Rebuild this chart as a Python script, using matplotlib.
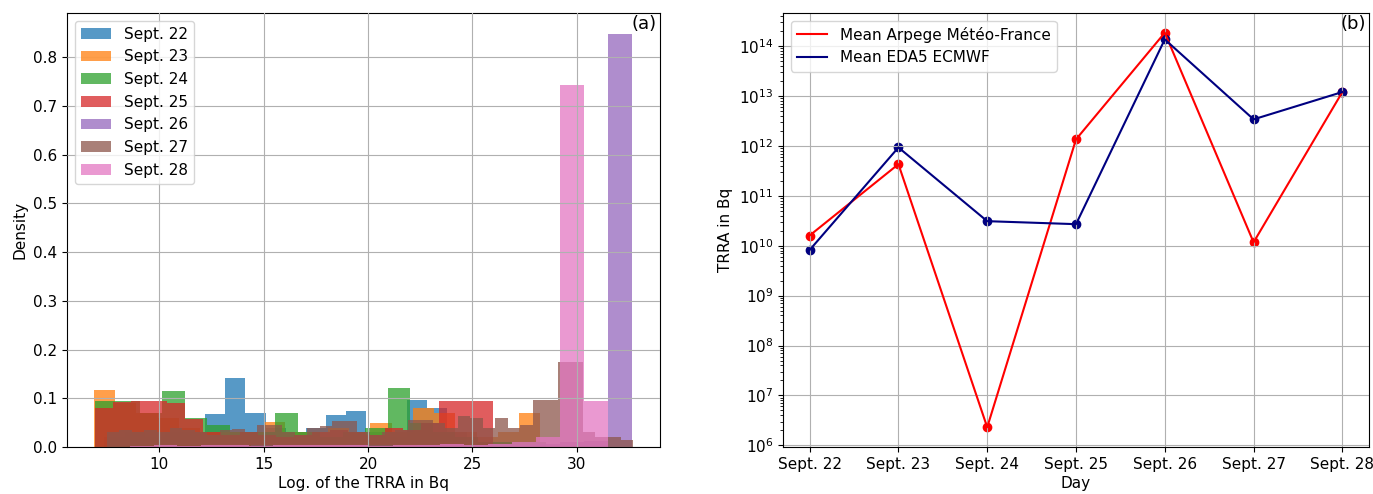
import numpy as np
import matplotlib
matplotlib.use("Agg")
import matplotlib.pyplot as plt
from matplotlib.ticker import MultipleLocator

# ---------------- data: panel (a) histograms (density per bin) ----------------
labels_a = ["Sept. 22", "Sept. 23", "Sept. 24", "Sept. 25", "Sept. 26", "Sept. 27", "Sept. 28"]

range_22 = (7.37, 24.74)
dens_22 = [0.02, 0.03, 0.02, 0.03, 0.03, 0.067, 0.142, 0.07, 0.04, 0.03, 0.04,
           0.066, 0.073, 0.03, 0.02, 0.097, 0.08, 0.03]

range_23 = (6.87, 28.25)
dens_23 = [0.116, 0.09, 0.07, 0.06, 0.04, 0.03, 0.03, 0.03, 0.052, 0.03, 0.03,
           0.04, 0.03, 0.049, 0.03, 0.08, 0.07, 0.03, 0.02, 0.03, 0.07]

range_24 = (6.9, 28.5)
dens_24 = [0.095, 0.095, 0.07, 0.114, 0.06, 0.045, 0.03, 0.03, 0.07, 0.03,
           0.02, 0.03, 0.04, 0.122, 0.05, 0.03, 0.02, 0.01, 0.01, 0.011]

range_25 = (6.9, 26.0)
dens_25 = [0.081, 0.093, 0.095, 0.095, 0.09, 0.058, 0.03, 0.025, 0.03, 0.025, 0.02,
           0.025, 0.03, 0.035, 0.03, 0.025, 0.04, 0.035, 0.05, 0.095, 0.095, 0.095]

range_26 = (9.82, 32.62)
dens_26 = [0.003, 0.002, 0.003, 0.002, 0.004, 0.003, 0.002, 0.003, 0.005, 0.004,
           0.003, 0.004, 0.005, 0.004, 0.006, 0.005, 0.007, 0.01, 0.012, 0.848]

range_27 = (7.49, 32.69)
dens_27 = [0.03, 0.035, 0.03, 0.035, 0.03, 0.04, 0.035, 0.03, 0.025, 0.035,
           0.036, 0.03, 0.045, 0.045, 0.03, 0.025, 0.04, 0.043, 0.053, 0.053,
           0.03, 0.025, 0.03, 0.035, 0.055, 0.055, 0.05, 0.04, 0.064, 0.06,
           0.04, 0.059, 0.04, 0.045, 0.097, 0.097, 0.175, 0.175, 0.03, 0.02,
           0.02, 0.015]

range_28 = (8.58, 31.48)
dens_28 = [0.003, 0.004, 0.003, 0.005, 0.004, 0.003, 0.004, 0.005, 0.004, 0.005,
           0.003, 0.004, 0.005, 0.006, 0.005, 0.006, 0.01, 0.02, 0.743, 0.094]

ranges_a = [range_22, range_23, range_24, range_25, range_26, range_27, range_28]
dens_a = [dens_22, dens_23, dens_24, dens_25, dens_26, dens_27, dens_28]

# ---------------- data: panel (b) ----------------
days = ["Sept. 22", "Sept. 23", "Sept. 24", "Sept. 25", "Sept. 26", "Sept. 27", "Sept. 28"]
arpege = [1.6e10, 4.3e11, 2.3e6, 1.35e12, 1.85e14, 1.17e10, 1.2e13]
eda5 = [8.2e9, 9.3e11, 3.1e10, 2.7e10, 1.36e14, 3.4e12, 1.2e13]

# ---------------- figure ----------------
plt.rcParams['font.family'] = ['DejaVu Sans']
plt.rcParams['font.size'] = 11
fig = plt.figure(figsize=(13.73, 4.94), dpi=100)
W, H = 1373, 494
ax1 = fig.add_axes([67 / W, (H - 447) / H, (660 - 67) / W, (447 - 13) / H])
ax2 = fig.add_axes([783 / W, (H - 447) / H, (1369 - 783) / W, (447 - 13) / H])

colors = plt.rcParams['axes.prop_cycle'].by_key()['color']
for i, (rng, d, lab) in enumerate(zip(ranges_a, dens_a, labels_a)):
    edges = np.linspace(rng[0], rng[1], len(d) + 1)
    centers = 0.5 * (edges[:-1] + edges[1:])
    ax1.hist(centers, bins=edges, weights=d, alpha=0.75, color=colors[i], label=lab)

ax1.yaxis.set_major_locator(MultipleLocator(0.1))
ax1.set_xlabel("Log. of the TRRA in Bq", fontsize=11, labelpad=3)
ax1.set_ylabel("Density", fontsize=11)
ax1.grid(True)
ax1.set_axisbelow(False)
ax1.legend(loc="upper left", fontsize=11)
ax1.text(0.995, 0.995, "(a)", transform=ax1.transAxes, ha="right", va="top", fontsize=13)

x = np.arange(len(days))
ax2.plot(x, arpege, color="red", label="Mean Arpege Météo-France")
ax2.scatter(x, arpege, color="red")
ax2.plot(x, eda5, color="navy", label="Mean EDA5 ECMWF")
ax2.scatter(x, eda5, color="navy")
ax2.set_yscale("log")
ax2.set_xticks(x)
ax2.set_xticklabels(days)
ax2.set_xlabel("Day", fontsize=11, labelpad=3)
ax2.set_ylabel("TRRA in Bq", fontsize=11)
ax2.grid(True)
ax2.legend(loc="upper left", fontsize=11)
ax2.text(0.995, 0.995, "(b)", transform=ax2.transAxes, ha="right", va="top", fontsize=13)

fig.savefig("out.png", dpi=100)
